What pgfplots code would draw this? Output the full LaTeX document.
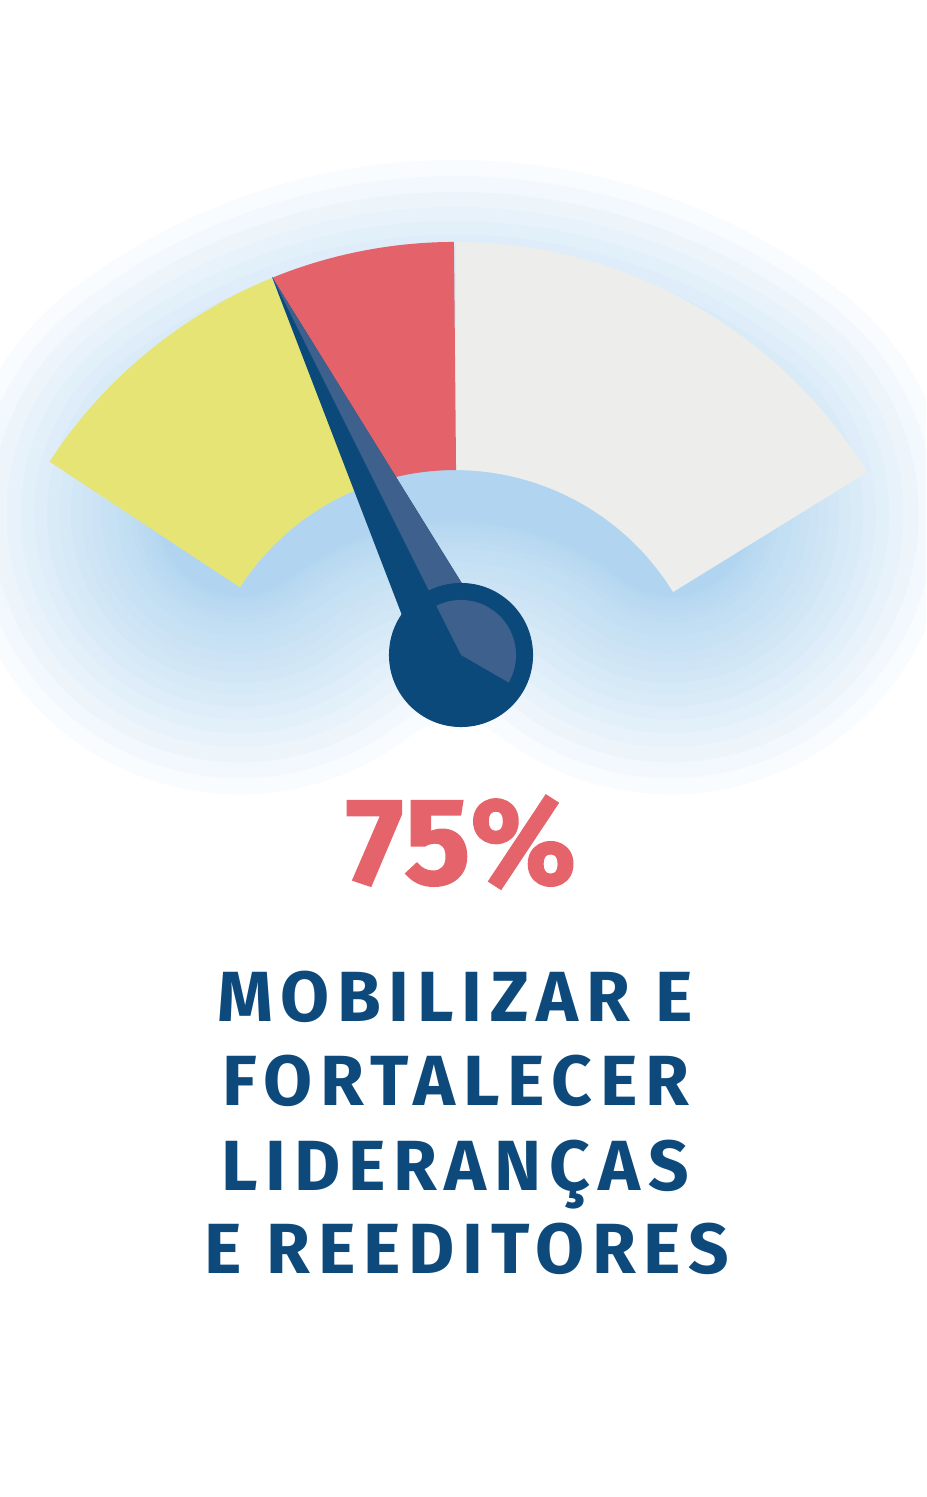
\documentclass[border=0pt]{standalone}
\usepackage{pgfplots}
\pgfplotsset{compat=1.18}
\usepackage{fontspec}
\setmainfont{Fira Sans}
\newfontfamily\titlefont[LetterSpace=11]{Fira Sans}
\newfontfamily\numfont[LetterSpace=2, BoldFeatures={FakeBold=1.5}]{Fira Sans}
\definecolor{gYellow}{HTML}{E7E476}
\definecolor{gRed}{HTML}{E4626A}
\definecolor{gGray}{HTML}{EDEDEB}
\definecolor{nDark}{HTML}{0B497A}
\definecolor{nLight}{HTML}{3E608C}
\definecolor{tBlue}{HTML}{0D4A7B}
\definecolor{tRed}{HTML}{E5636B}
\definecolor{glow}{HTML}{9ECBEC}
\begin{document}
\begin{tikzpicture}
\begin{axis}[x=0.01cm, y=0.01cm, xmin=0, xmax=926, ymin=-1497, ymax=0,
  hide axis, clip=true]
\path (axis cs:0,0) rectangle (axis cs:926,-1497);
% glow (soft blurred band, set a little lower than the gauge)
\pgfplotsinvokeforeach{1,2,3,4,5,6,7,8,9,10,11,12,13,14,15,16,17,18,19,20,21,22,23,24}{
  \addplot[domain=52:128, samples=100, line width={1.6cm+4.0cm*(#1/24)^2},
    color=glow, opacity=0.065, line cap=round] ({455+350*cos(x)},{-790+350*sin(x)});
}
% gauge segments (start angle : end angle)
\addplot[domain=31.6:90, samples=120, line width=2.28cm, color=gGray, line cap=butt]
  ({455+370*cos(x)},{-726+370*sin(x)});
\addplot[domain=90:112.2, samples=60, line width=2.28cm, color=gRed, line cap=butt]
  ({455+370*cos(x)},{-726+370*sin(x)});
\addplot[domain=112.2:147, samples=80, line width=2.28cm, color=gYellow, line cap=butt]
  ({455+370*cos(x)},{-726+370*sin(x)});
% needle
\addplot[fill=nDark, draw=none] coordinates {(272,-277) (423,-670) (497,-640)};
\addplot[fill=nLight, draw=none] coordinates {(272,-277) (461,-655) (497,-640)};
\fill[nDark] (axis cs:461,-655) circle[radius=0.72cm];
\fill[nLight] (axis cs:461,-655) -- ++(-30:0.55cm) arc[start angle=-30, end angle=116.6, radius=0.55cm] -- cycle;
% texts
\node[anchor=base, text=tRed, inner sep=0pt] at (axis cs:461,-884)
  {\numfont\bfseries\fontsize{35pt}{40pt}\selectfont 75\%};
\node[anchor=base, text=tBlue, inner sep=0pt] at (axis cs:455,-1022)
  {\titlefont\bfseries\fontsize{20.2pt}{24pt}\selectfont MOBILIZAR E};
\node[anchor=base, text=tBlue, inner sep=0pt] at (axis cs:456,-1106)
  {\titlefont\bfseries\fontsize{20.2pt}{24pt}\selectfont FORTALECER};
\node[anchor=base, text=tBlue, inner sep=0pt] at (axis cs:455,-1190)
  {\titlefont\bfseries\fontsize{20.2pt}{24pt}\selectfont LIDERANÇAS};
\node[anchor=base, text=tBlue, inner sep=0pt] at (axis cs:467,-1274)
  {\titlefont\bfseries\fontsize{20.2pt}{24pt}\selectfont E REEDITORES};
\end{axis}
\end{tikzpicture}
\end{document}
